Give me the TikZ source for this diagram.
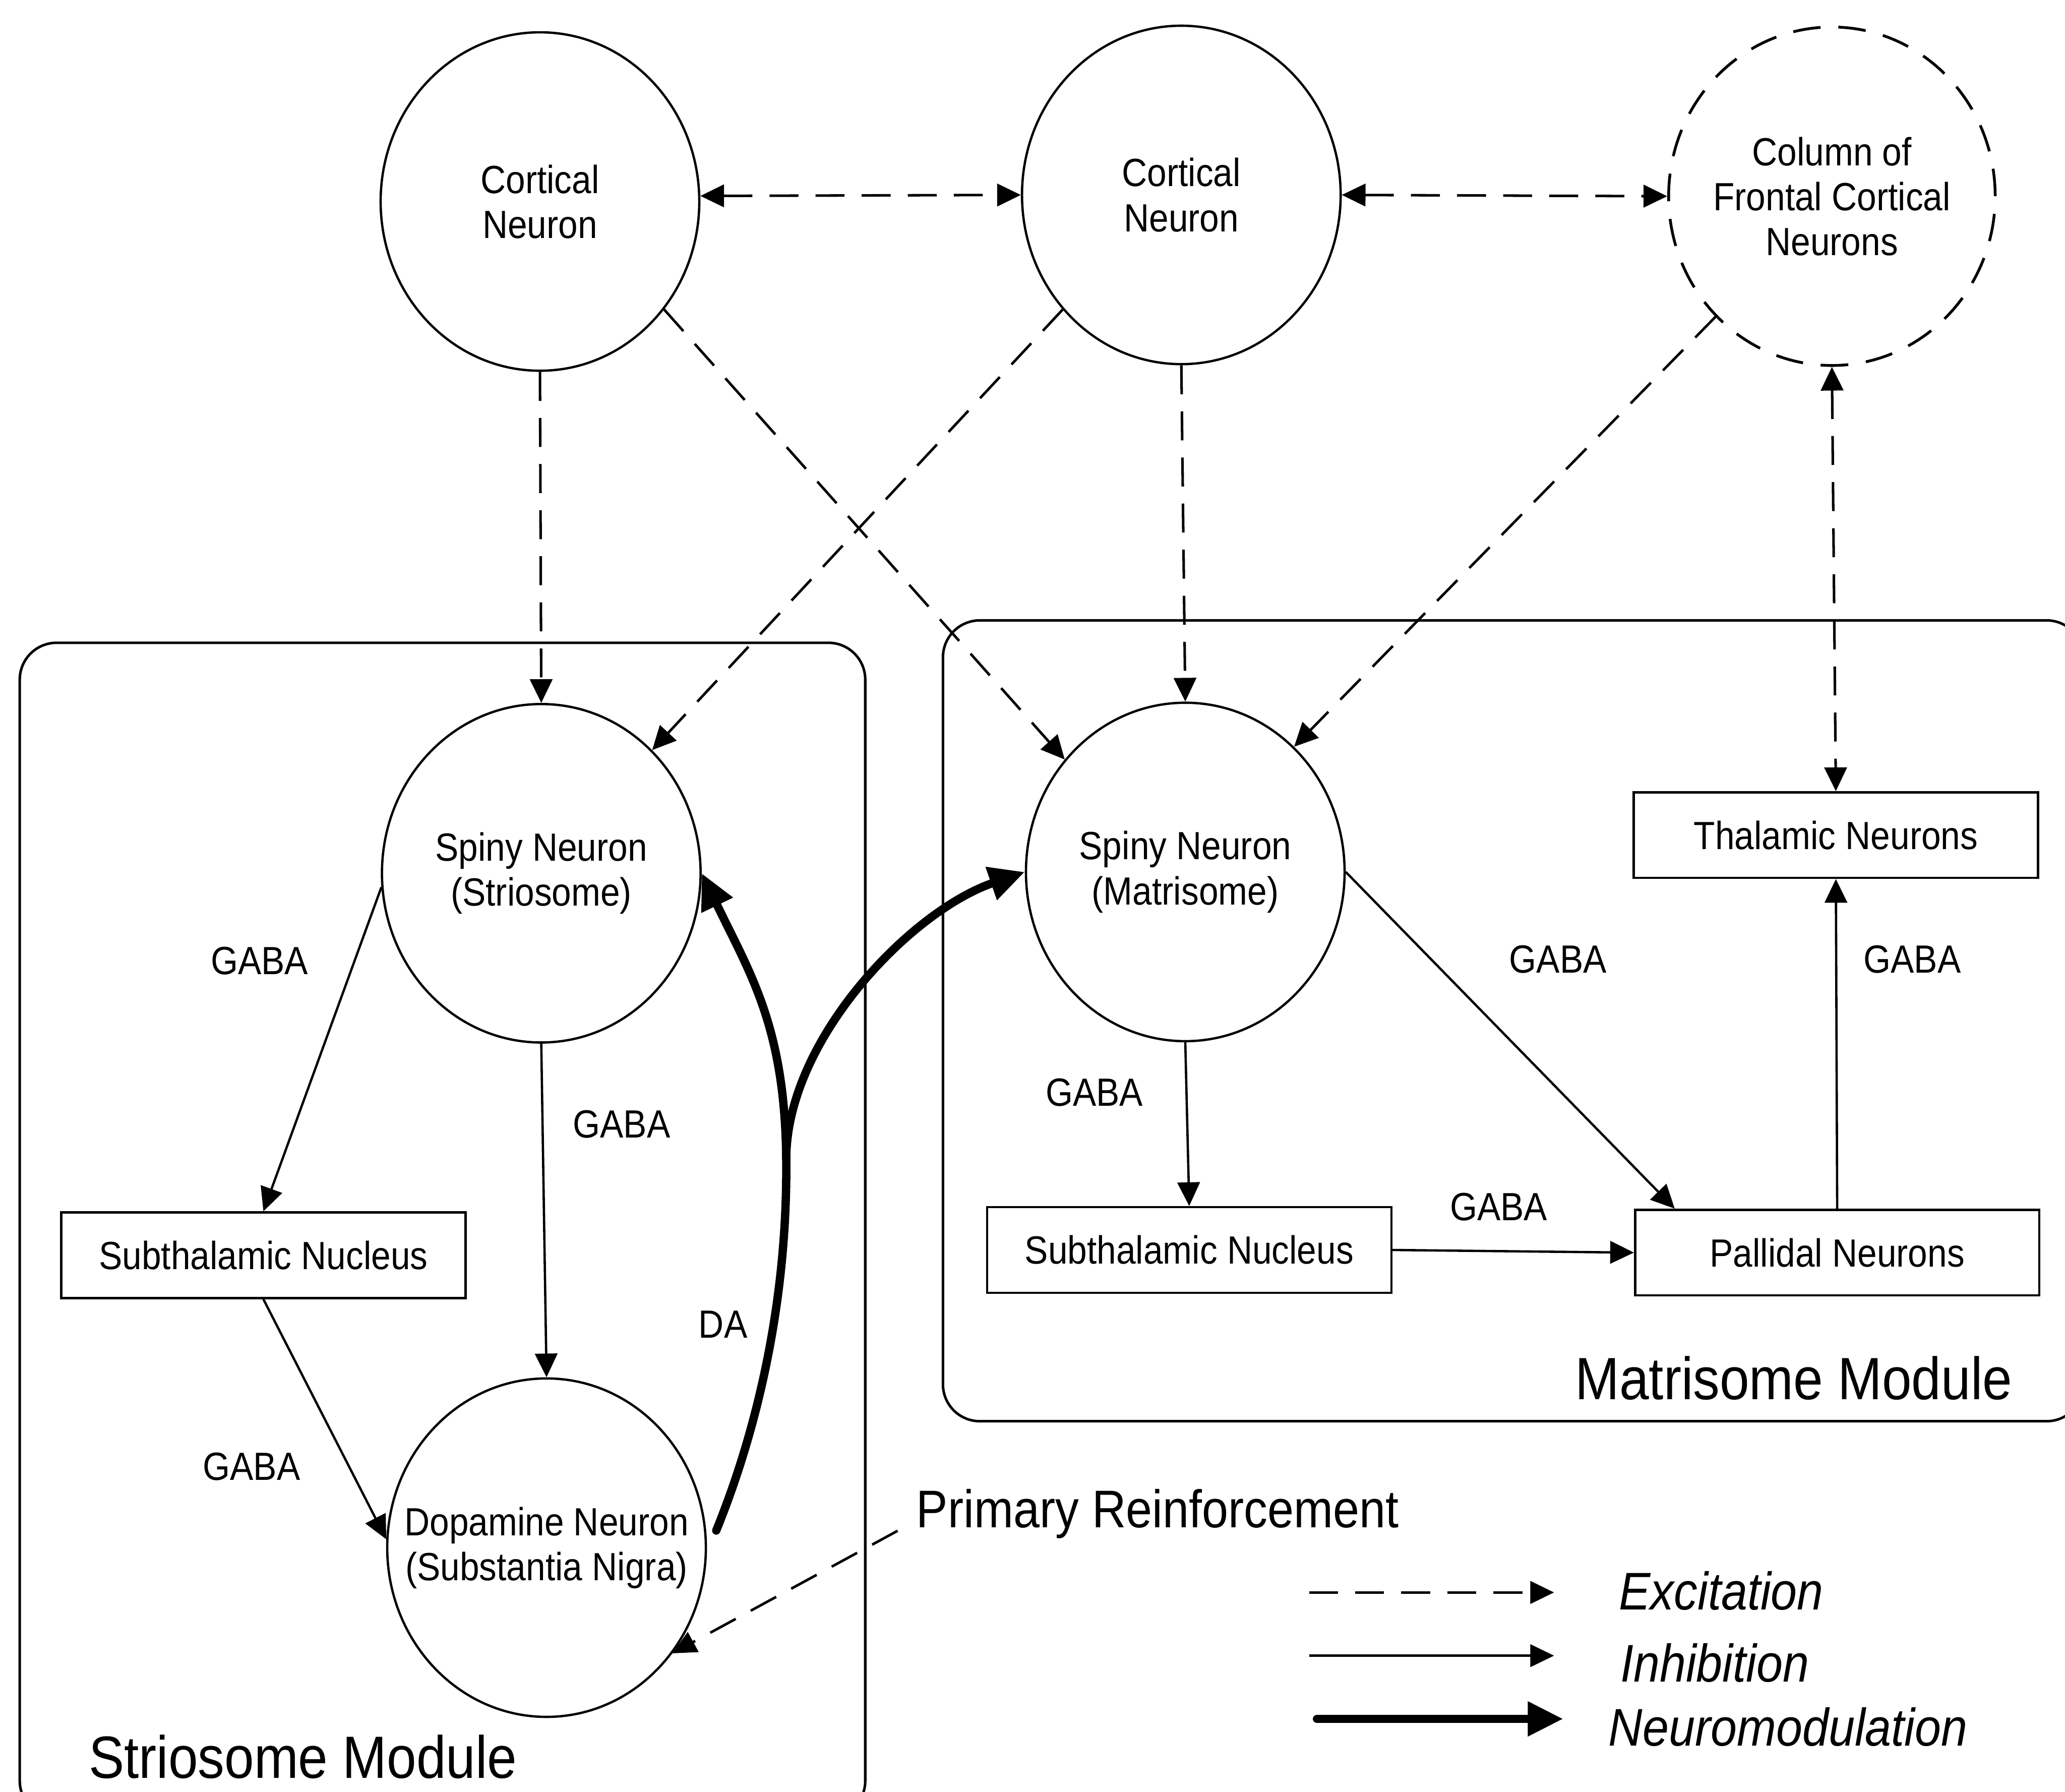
\documentclass[tikz,border=0pt]{standalone}
\usepackage{fontspec}
\setmainfont{Liberation Sans}[FakeStretch=0.89]
\usetikzlibrary{shapes.geometric,arrows.meta,calc}

\begin{document}
\begin{tikzpicture}[x=0.02cm,y=-0.02cm,
  txt/.style={font=\fontsize{17}{19.4}\selectfont},
  neuron/.style={ellipse, draw, line width=1pt, minimum width=4.84cm,
    minimum height=5.14cm, inner sep=-16pt, align=center, txt},
  colneuron/.style={neuron, minimum width=4.96cm, line width=1.2pt,
    dash pattern=on 0.42cm off 0.27cm},
  box/.style={rectangle, draw, line width=1pt, minimum width=6.14cm,
    minimum height=1.3cm, inner sep=0pt, txt},
  lbl/.style={inner sep=0pt, anchor=base, txt},
  labbig/.style={inner sep=0pt, anchor=base, font=\fontsize{25.8}{30}\selectfont},
  labmid/.style={inner sep=0pt, anchor=base, font=\fontsize{22.9}{27}\selectfont},
  legtxt/.style={inner sep=0pt, anchor=base west, font=\fontsize{22.9}{27}\selectfont\itshape},
  modframe/.style={draw, line width=1.1pt, rounded corners=0.56cm},
  tipthin/.tip={Triangle[length=0.36cm,width=0.34cm]},
  tipthick/.tip={Triangle[length=0.54cm,width=0.5cm]},
  excite/.style={line width=1.1pt, dash pattern=on 0.44cm off 0.26cm, -tipthin},
  exciteboth/.style={line width=1.1pt, dash pattern=on 0.44cm off 0.26cm, tipthin-tipthin},
  inhibit/.style={line width=1pt, -tipthin},
  neuromod/.style={line width=3.6pt, line cap=round, -tipthick},
]
% page
\fill[white] (0,0) rectangle (1568,1360.4);
\useasboundingbox (0,0) rectangle (1568,1360.4);

% module frames
\draw[modframe] (15,488) rectangle (657,1380);
\draw[modframe] (716,471) rectangle (1582,1079);

% cortical level
\node[neuron] (cA) at (410,153) {Cortical\\Neuron};
\node[neuron] (cB) at (897,148) {Cortical\\Neuron};
\node[colneuron] (col) at (1391,149) {Column of\\Frontal Cortical\\Neurons};

% striatal and nigral neurons
\node[neuron] (sS) at (411,663) {Spiny Neuron\\(Striosome)};
\node[neuron] (sM) at (900,662) {Spiny Neuron\\(Matrisome)};
\node[neuron] (dn) at (415,1175) {Dopamine Neuron\\(Substantia Nigra)};

% nuclei
\node[box] (stL) at (200,953) {Subthalamic Nucleus};
\node[box] (stR) at (903,949) {Subthalamic Nucleus};
\node[box] (pal) at (1395,951) {Pallidal Neurons};
\node[box] (thal) at (1394,634) {Thalamic Neurons};

% transmitter labels
\node[lbl] (g1) at (197,739.7) {GABA};
\node[lbl] (g2) at (472,863.7) {GABA};
\node[lbl] (g3) at (191,1123.7) {GABA};
\node[lbl] (g4) at (831,839.7) {GABA};
\node[lbl] (g5) at (1183,738.7) {GABA};
\node[lbl] (g6) at (1452,738.7) {GABA};
\node[lbl] (g7) at (1138,926.7) {GABA};
\node[lbl] (da) at (549,1015.7) {DA};

% module names and input
\node[labbig] (strioName) at (230,1350) {Striosome Module};
\node[labbig] (matriName) at (1362,1062.5) {Matrisome Module};
\node[labmid] (prim) at (879,1159.6) {Primary Reinforcement};

% excitatory projections
\draw[exciteboth] (cA.2) -- (cB.west);
\draw[exciteboth] (cB.east) -- (col.west);
\draw[excite] (cA.south) -- (sS.north);
\draw[excite] (cA.-41) -- (sM.137);
\draw[excite] (cB.224) -- (sS.48);
\draw[excite] (cB.south) -- (sM.north);
\draw[excite] (col.226) -- (sM.49);
\draw[exciteboth] (col.south) -- (thal.north);
\draw[excite] ($(prim.west)+(-14,13)$) -- (dn.-40);

% inhibitory projections
\draw[inhibit] (sS.185) -- (stL.north);
\draw[inhibit] (sS.south) -- (dn.north);
\draw[inhibit] (stL.south) -- (dn.177);
\draw[inhibit] (sM.south) -- (stR.north);
\draw[inhibit] (sM.east) -- ($(pal.north west)+(31,0)$);
\draw[inhibit] (stR.east) -- (pal.west);
\draw[inhibit] (pal.north) -- (thal.south);

% dopaminergic modulation
\coordinate (daJ) at (597,880);
\draw[neuromod] ($(dn.east)+(7,-13)$) .. controls (578,1078) and (598,980) .. (daJ)
  .. controls (596,780) and (570,740) .. (sS.east);
\draw[neuromod] (daJ) .. controls (597,790) and (691,692) .. (sM.west);

% legend
\coordinate (le1) at (994,1209);  \coordinate (le2) at (1180,1209);
\coordinate (li1) at (994,1257);  \coordinate (li2) at (1180,1257);
\coordinate (ln1) at (1000,1305); \coordinate (ln2) at (1187,1305);
\draw[excite] (le1) -- (le2);
\draw[inhibit] (li1) -- (li2);
\draw[neuromod] (ln1) -- (ln2);
\node[legtxt] (legE) at (1229,1222) {Excitation};
\node[legtxt] (legI) at (1230,1277) {Inhibition};
\node[legtxt] (legN) at (1221,1325.6) {Neuromodulation};
\end{tikzpicture}
\end{document}
